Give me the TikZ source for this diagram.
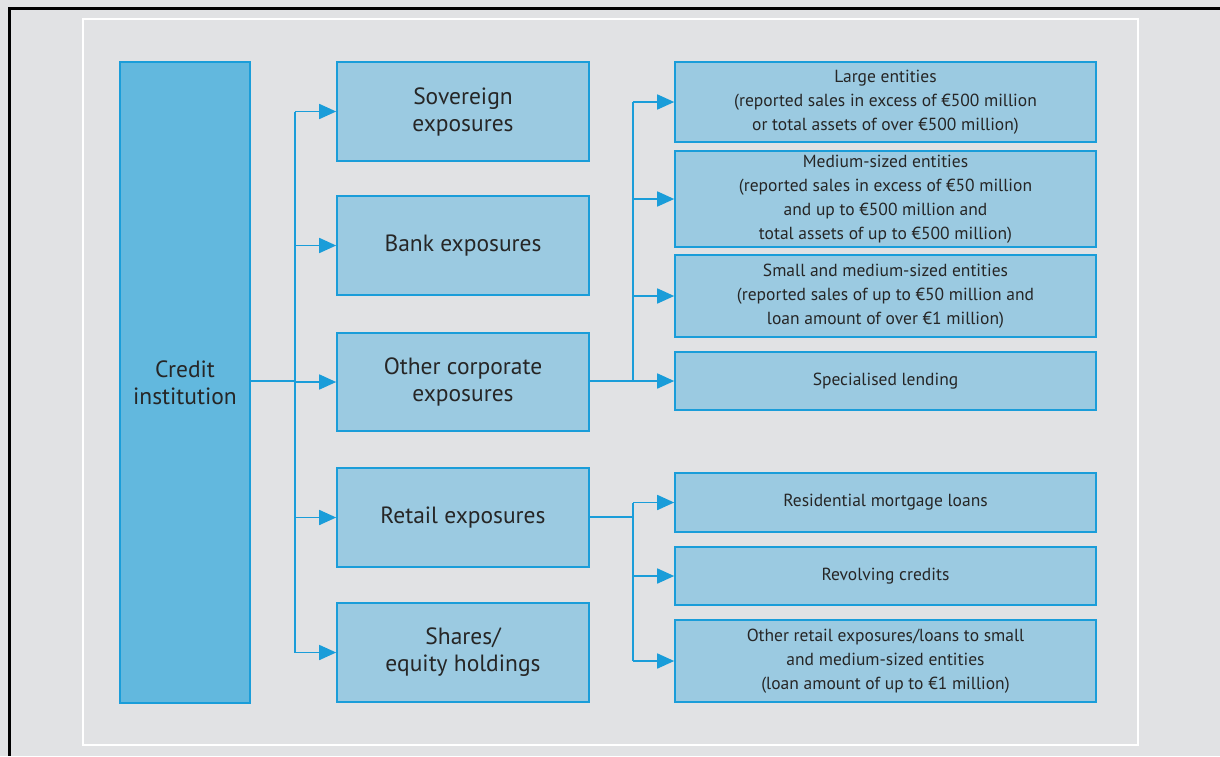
\documentclass[tikz,border=0pt]{standalone}
\usepackage{fontspec}
\setmainfont{PT Sans}
\usetikzlibrary{arrows.meta}
\definecolor{pagegray}{HTML}{E1E2E4}
\definecolor{lineblue}{HTML}{1A9DD9}
\definecolor{darkfill}{HTML}{62B8DE}
\definecolor{lightfill}{HTML}{9BCAE1}
\definecolor{txtgray}{HTML}{262626}
\tikzset{
  mainbox/.style={draw=lineblue, line width=1.6pt, fill=lightfill, text=txtgray,
    minimum width=252pt, align=center, inner sep=0pt,
    font=\fontsize{23.5}{27}\selectfont},
  subbox/.style={draw=lineblue, line width=1.6pt, fill=lightfill, text=txtgray,
    minimum width=421pt, align=center, inner sep=0pt,
    font=\fontsize{17.5}{24}\selectfont},
  busline/.style={draw=lineblue, line width=1.6pt},
  arr/.style={busline, -{Triangle[length=17pt,width=15pt]}},
}
\begin{document}
\begin{tikzpicture}[x=1pt,y=-1pt]
	\fill[pagegray] (0,0) rectangle (1220,756);
	\useasboundingbox (0,0) rectangle (1220,756);
	\draw[black, line width=3pt] (1220,8) -- (9.5,8) -- (9.5,756);
	\draw[white, line width=2pt] (83,19) rectangle (1138,745);
	% left column
	\node[mainbox, fill=darkfill, minimum width=130pt, minimum height=641pt] (credit) at (185,382.5) {Credit\\institution};
	% middle column
	\node[mainbox, minimum height=99pt] (sov) at (463,111.5) {Sovereign\\exposures};
	\node[mainbox, minimum height=99pt] (bank) at (463,245.5) {Bank exposures};
	\node[mainbox, minimum height=98pt] (corp) at (463,382) {Other corporate\\exposures};
	\node[mainbox, minimum height=99pt] (retail) at (463,517.5) {Retail exposures};
	\node[mainbox, minimum height=99pt] (shares) at (463,652.5) {Shares/\\equity holdings};
	% right column
	\node[subbox, minimum height=80pt] (large) at (885.5,102) {Large entities\\(reported sales in excess of €500 million\\or total assets of over €500 million)};
	\node[subbox, minimum height=96pt] (medium) at (885.5,199) {Medium-sized entities\\(reported sales in excess of €50 million\\and up to €500 million and\\total assets of up to €500 million)};
	\node[subbox, minimum height=82pt] (small) at (885.5,296) {Small and medium-sized entities\\(reported sales of up to €50 million and\\loan amount of over €1 million)};
	\node[subbox, minimum height=58pt] (special) at (885.5,381) {Specialised lending};
	\node[subbox, minimum height=59pt] (mortgage) at (885.5,502.5) {Residential mortgage loans};
	\node[subbox, minimum height=58pt] (revolving) at (885.5,576) {Revolving credits};
	\node[subbox, minimum height=82pt] (otherretail) at (885.5,661) {Other retail exposures/loans to small\\and medium-sized entities\\(loan amount of up to €1 million)};
	% buses
	\coordinate (bus1) at (295,381);
	\coordinate (bus2) at (633,381);
	\coordinate (bus3) at (633,517);
	\draw[busline] (credit.east |- bus1) -- (bus1);
	\draw[busline] (sov.west -| bus1) -- (shares.west -| bus1);
	\foreach \n in {sov,bank,corp,retail,shares}
		\draw[arr] (\n.west -| bus1) -- (\n.west);
	\draw[busline] (corp.east |- bus2) -- (bus2);
	\draw[busline] (large.west -| bus2) -- (bus2);
	\foreach \n in {large,medium,small,special}
		\draw[arr] (\n.west -| bus2) -- (\n.west);
	\draw[busline] (retail.east |- bus3) -- (bus3);
	\draw[busline] (mortgage.west -| bus3) -- (otherretail.west -| bus3);
	\foreach \n in {mortgage,revolving,otherretail}
		\draw[arr] (\n.west -| bus3) -- (\n.west);
\end{tikzpicture}
\end{document}
